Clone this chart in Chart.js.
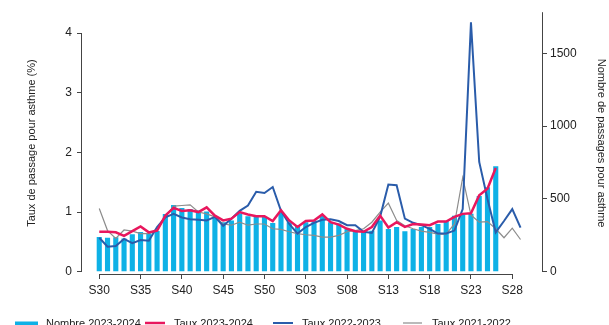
<!DOCTYPE html>
<html>
<head>
<meta charset="utf-8">
<script src="https://cdn.jsdelivr.net/npm/chart.js@4.4.1/dist/chart.umd.min.js"></script>
<style>
  html, body { margin: 0; padding: 0; background: #fff; overflow: hidden; }
  canvas { display: block; }
</style>
</head>
<body>
<canvas id="asthmeChart" width="609" height="340"></canvas>
<script>
// semaines de S30 à S29 de l'année suivante
const weeks = [
  "S30", "S31", "S32", "S33", "S34", "S35", "S36", "S37", "S38", "S39",
  "S40", "S41", "S42", "S43", "S44", "S45", "S46", "S47", "S48", "S49",
  "S50", "S51", "S52", "S01", "S02", "S03", "S04", "S05", "S06", "S07",
  "S08", "S09", "S10", "S11", "S12", "S13", "S14", "S15", "S16", "S17",
  "S18", "S19", "S20", "S21", "S22", "S23", "S24", "S25", "S26", "S27",
  "S28", "S29"
];
const weekTicks = ["S30", "S35", "S40", "S45", "S50", "S03", "S08", "S13", "S18", "S23", "S28"];
const rateTicks = [0, 1, 2, 3, 4];
const countTicks = [0, 500, 1000, 1500];

// nombre de passages pour asthme, saison en cours
const nombre2324 = [
  238, 234, 236, 228, 257, 273, 262, 280, 397, 458,
  438, 431, 421, 413, 376, 340, 352, 401, 380, 376,
  376, 335, 409, 340, 319, 340, 352, 384, 340, 331,
  294, 282, 274, 282, 352, 294, 307, 278, 294, 307,
  307, 327, 348, 384, 393, 398, 520, 580, 725
];

// taux de passage (%)
const taux2324 = [
  0.67, 0.67, 0.66, 0.60, 0.68, 0.76, 0.66, 0.69, 0.94, 1.07,
  1.02, 1.03, 1.00, 1.08, 0.94, 0.86, 0.89, 1.00, 0.96, 0.93,
  0.93, 0.85, 1.03, 0.86, 0.75, 0.85, 0.86, 0.96, 0.83, 0.79,
  0.72, 0.68, 0.67, 0.75, 0.94, 0.74, 0.83, 0.75, 0.80, 0.79,
  0.78, 0.84, 0.84, 0.92, 0.97, 0.98, 1.28, 1.39, 1.74
];
const taux2223 = [
  0.57, 0.42, 0.43, 0.55, 0.48, 0.53, 0.52, 0.75, 0.91, 0.97,
  0.91, 0.88, 0.87, 0.86, 0.92, 0.77, 0.89, 1.02, 1.11, 1.34,
  1.32, 1.42, 1.02, 0.80, 0.64, 0.75, 0.82, 0.87, 0.88, 0.85,
  0.78, 0.78, 0.67, 0.65, 0.92, 1.46, 1.45, 0.89, 0.82, 0.78,
  0.72, 0.64, 0.64, 0.69, 1.05, 4.18, 1.84, 1.22, 0.66, 0.85,
  1.05, 0.74
];
const taux2122 = [
  1.06, 0.69, 0.56, 0.70, 0.68, 0.64, 0.64, 0.69, 0.92, 1.10,
  1.11, 1.12, 1.00, 0.97, 0.92, 0.80, 0.78, 0.83, 0.78, 0.80,
  0.80, 0.72, 0.71, 0.67, 0.64, 0.62, 0.61, 0.58, 0.58, 0.61,
  0.67, 0.69, 0.72, 0.83, 1.00, 1.15, 0.86, 0.77, 0.72, 0.68,
  0.66, 0.63, 0.63, 0.80, 1.58, 0.95, 0.83, 0.84, 0.72, 0.57,
  0.73, 0.54
];

const toPoints = (arr) => arr.map((v, i) => ({ x: i, y: v }));
const FONT = "'Liberation Sans', Arial, sans-serif";
const AXIS_COLOR = "#444";

// axes "à la R" : les traits ne couvrent que l'étendue des graduations
const axisLines = {
  id: "axisLines",
  afterDraw(chart) {
    const { ctx, chartArea, scales } = chart;
    const x = scales.x, yRate = scales.yRate, yCount = scales.yCount;
    ctx.save();
    ctx.strokeStyle = AXIS_COLOR;
    ctx.lineWidth = 1;
    ctx.beginPath();
    const lx = Math.round(chartArea.left) - 0.5;
    ctx.moveTo(lx, yRate.getPixelForValue(rateTicks[0]));
    ctx.lineTo(lx, yRate.getPixelForValue(rateTicks[rateTicks.length - 1]));
    const by = Math.round(chartArea.bottom) + 0.5;
    ctx.moveTo(x.getPixelForValue(weeks.indexOf(weekTicks[0])), by);
    ctx.lineTo(x.getPixelForValue(weeks.indexOf(weekTicks[weekTicks.length - 1])), by);
    const rx = Math.round(chartArea.right) + 0.5;
    ctx.moveTo(rx, yCount.getPixelForValue(0));
    ctx.lineTo(rx, chartArea.top);
    ctx.stroke();
    ctx.restore();
  }
};

// légende en ligne sous le graphique
const legendRow = {
  id: "legendRow",
  afterDraw(chart) {
    const { ctx } = chart;
    const ds = chart.data.datasets;
    const y = 323;
    const items = [
      { i: 0, x: 15, w: 23, text: 46 },
      { i: 1, x: 145, w: 20, text: 174 },
      { i: 2, x: 273, w: 20, text: 302 },
      { i: 3, x: 403, w: 19, text: 432 }
    ];
    ctx.save();
    items.forEach((it) => {
      const d = ds[it.i];
      if (d.type === "bar") {
        ctx.fillStyle = d.backgroundColor;
        ctx.fillRect(it.x, y - 1.5, it.w, 8);
      } else {
        ctx.strokeStyle = d.borderColor;
        ctx.lineWidth = d.borderWidth;
        ctx.beginPath();
        ctx.moveTo(it.x, y);
        ctx.lineTo(it.x + it.w, y);
        ctx.stroke();
      }
      ctx.fillStyle = "#222";
      ctx.font = "11px " + FONT;
      ctx.textBaseline = "middle";
      ctx.textAlign = "left";
      ctx.fillText(d.label, it.text, y + 1);
    });
    ctx.restore();
  }
};

new Chart(document.getElementById("asthmeChart"), {
  data: {
    datasets: [
      {
        type: "bar",
        label: "Nombre 2023-2024",
        data: toPoints(nombre2324),
        yAxisID: "yCount",
        backgroundColor: "#0EB1E6",
        borderWidth: 0,
        categoryPercentage: 1,
        barPercentage: 0.62,
        order: 4
      },
      {
        type: "line",
        label: "Taux 2023-2024",
        data: toPoints(taux2324),
        yAxisID: "yRate",
        borderColor: "#E8175D",
        borderWidth: 2.5,
        pointRadius: 0,
        tension: 0,
        order: 1
      },
      {
        type: "line",
        label: "Taux 2022-2023",
        data: toPoints(taux2223),
        yAxisID: "yRate",
        borderColor: "#2A5CAA",
        borderWidth: 2,
        pointRadius: 0,
        tension: 0,
        order: 2
      },
      {
        type: "line",
        label: "Taux 2021-2022",
        data: toPoints(taux2122),
        yAxisID: "yRate",
        borderColor: "#8C8C8C",
        borderWidth: 1.2,
        pointRadius: 0,
        tension: 0,
        order: 3
      }
    ]
  },
  options: {
    responsive: false,
    animation: false,
    devicePixelRatio: 1,
    layout: { padding: { top: 11, bottom: 40, left: 0, right: 0 } },
    plugins: {
      legend: { display: false },
      tooltip: { enabled: false }
    },
    scales: {
      x: {
        type: "linear",
        min: -2.09,
        max: 53.6,
        offset: false,
        border: { display: false },
        grid: { drawOnChartArea: false, offset: false, color: AXIS_COLOR, tickLength: 5 },
        afterBuildTicks: (s) => {
          s.ticks = weekTicks.map((w) => ({ value: weeks.indexOf(w) }));
        },
        afterFit: (s) => { s.height = 26; },
        ticks: {
          autoSkip: false,
          maxRotation: 0,
          padding: 4,
          color: "#222",
          font: { family: FONT, size: 12 },
          callback: (v) => weeks[v]
        }
      },
      yRate: {
        type: "linear",
        position: "left",
        min: -0.038,
        max: 4.35,
        border: { display: false },
        grid: { drawOnChartArea: false, color: AXIS_COLOR, tickLength: 5 },
        afterBuildTicks: (s) => {
          s.ticks = rateTicks.map((v) => ({ value: v }));
        },
        afterFit: (s) => { s.width = 82; },
        ticks: {
          padding: 5,
          color: "#222",
          font: { family: FONT, size: 12 },
          callback: (v) => String(v)
        },
        title: {
          display: true,
          text: "Taux de passage pour asthme (%)",
          color: "#222",
          font: { family: FONT, size: 11 },
          padding: { top: 25, bottom: 0 }
        }
      },
      yCount: {
        type: "linear",
        position: "right",
        min: -15.7,
        max: 1782,
        border: { display: false },
        grid: { drawOnChartArea: false, color: AXIS_COLOR, tickLength: 5 },
        afterBuildTicks: (s) => {
          s.ticks = countTicks.map((v) => ({ value: v }));
        },
        afterFit: (s) => { s.width = 67; },
        ticks: {
          padding: 3,
          color: "#222",
          font: { family: FONT, size: 12 },
          callback: (v) => String(v)
        },
        title: {
          display: true,
          text: "Nombre de passages pour asthme",
          color: "#222",
          font: { family: FONT, size: 11 },
          padding: { top: 1.5, bottom: 0 }
        }
      }
    }
  },
  plugins: [axisLines, legendRow]
});
</script>
</body>
</html>
